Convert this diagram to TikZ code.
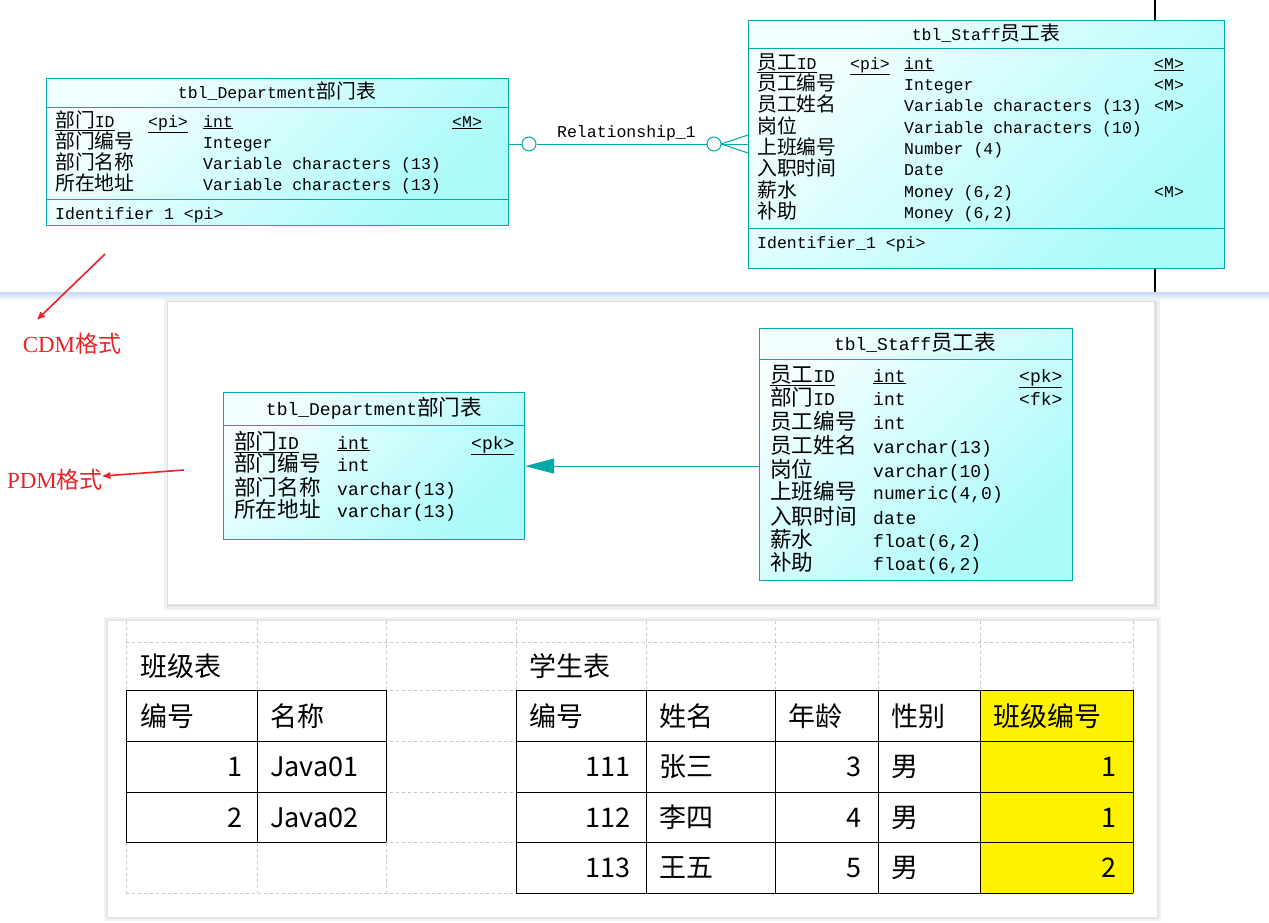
\documentclass[tikz,border=0pt]{standalone}
\usepackage{xcolor}
\usepackage{fontspec}
\setmainfont{Liberation Serif}
\setmonofont{Liberation Mono}
\newfontfamily\cjk{Noto Sans CJK SC}
\newfontfamily\erzh[Scale=1.2]{Noto Sans CJK SC}
\newcommand{\zh}[1]{{\erzh #1}}
\usepackage{tikz}
\usetikzlibrary{arrows,arrows.meta,calc}
\definecolor{erteal}{RGB}{0,168,168}
\definecolor{erlight}{RGB}{244,255,255}
\definecolor{ercyan}{RGB}{170,250,250}
\definecolor{notered}{RGB}{232,36,40}
\definecolor{gridgray}{RGB}{200,200,200}
\definecolor{sepblue}{RGB}{196,216,245}

\begin{document}
\begin{tikzpicture}[x=1pt,y=-1pt,>=stealth']
\tikzstyle{entity}=[draw=erteal,line width=1.2pt,top color=erlight,bottom color=ercyan,shading angle=45,inner sep=0pt,anchor=north west]
\tikzstyle{sep}=[draw=erteal,line width=1pt]
\tikzstyle{cdmfont}=[inner sep=0pt,font=\ttfamily\fontsize{16.5}{20}\selectfont]
\tikzstyle{cdm}=[cdmfont,anchor=base west,yshift=-6pt]
\tikzstyle{pdm}=[anchor=base west,inner sep=0pt,yshift=-7pt,font=\ttfamily\fontsize{18}{22}\selectfont]
\tikzstyle{rel}=[draw=erteal,line width=1pt]
\tikzstyle{ring}=[circle,draw=erteal,fill=white,line width=1pt,minimum size=14pt,inner sep=0pt]
\tikzstyle{fk}=[rel,-{Triangle[length=29pt,width=15pt]}]
\tikzstyle{note}=[draw=notered,line width=1.6pt,->]
\tikzstyle{redtext}=[inner sep=0pt,text=notered,font=\rmfamily\fontsize{23}{25}\selectfont]
\tikzstyle{sheetgrid}=[draw=gridgray,dashed,line width=0.6pt]
\tikzstyle{cell}=[draw=black,line width=1pt]
\tikzstyle{sheet}=[anchor=base west,inner sep=0pt,yshift=-10pt,font=\cjk\fontsize{27}{30}\selectfont]
\tikzstyle{num}=[sheet,anchor=base east]
\useasboundingbox (0,0) rectangle (1269,922);
\fill[white] (0,0) rectangle (1269,922);
\shade[top color=sepblue,bottom color=white] (0,292) rectangle (1269,301);
\draw[line width=1.2pt] (1155,0) -- (1155,292);

\node[entity,minimum width=462pt,minimum height=147pt] (cdept) at (46,78) {};
\draw[sep] (46,107) -- (508,107);
\draw[sep] (46,199) -- (508,199);
\node[cdm,anchor=base] (cdept_t) at (277,92) {tbl\_Department\zh{部门表}};
\foreach \y/\n/\t [count=\i] in {121/{\underline{\zh{部门}ID}}/{\underline{int}},142/{\zh{部门编号}}/Integer,163/{\zh{部门名称}}/{Variable characters (13)},184/{\zh{所在地址}}/{Variable characters (13)}}
{
  \node[cdm] (cd_\i) at (55,\y) {\n};
  \node[cdm] (ct_\i) at (203,\y) {\t};
}
\node[cdm] (cd_pi) at (148,121) {\underline{<pi>}};
\node[cdm] (cd_m) at (452,121) {\underline{<M>}};
\node[cdm] (cd_id) at (55,213) {Identifier 1 <pi>};

\node[entity,minimum width=476pt,minimum height=248pt] (cstaff) at (748,20) {};
\draw[sep] (748,48) -- (1224,48);
\draw[sep] (748,228) -- (1224,228);
\node[cdm,anchor=base] (cstaff_t) at (986,34) {tbl\_Staff\zh{员工表}};
\foreach \y/\n/\t [count=\i] in {63/{\underline{\zh{员工}ID}}/{\underline{int}},84/{\zh{员工编号}}/Integer,105/{\zh{员工姓名}}/{Variable characters (13)},127/{\zh{岗位}}/{Variable characters (10)},148/{\zh{上班编号}}/{Number (4)},169/{\zh{入职时间}}/Date,191/{\zh{薪水}}/{Money (6,2)},212/{\zh{补助}}/{Money (6,2)}}
{
  \node[cdm] (cs_\i) at (757,\y) {\n};
  \node[cdm] (cst_\i) at (904,\y) {\t};
}
\node[cdm] (cs_pi) at (850,63) {\underline{<pi>}};
\node[cdm] (m_1) at (1154,63) {\underline{<M>}};
\foreach \y/\name in {84/m_2,105/m_3,191/m_7}
  \node[cdm] (\name) at (1154,\y) {<M>};
\node[cdm] (cs_id) at (757,242) {Identifier\_1 <pi>};

\node[ring] (c_1) at (529,144) {};
\node[ring] (c_2) at (714,144) {};
\coordinate (crow) at (721,144);
\path[rel] (cdept.east |- c_1) to (c_1);
\path[rel] (c_1) to node[cdmfont,anchor=base,xshift=5pt,yshift=7pt] (rel_1) {Relationship\_1} (c_2);
\path[rel] (c_2) to (crow);
\path[rel] (crow) to (cstaff.west |- crow);
\path[rel] (crow) to ($(cstaff.west |- crow)+(0,-9)$);
\path[rel] (crow) to ($(cstaff.west |- crow)+(0,9)$);

\fill[black!6] (164,298) rectangle (1160,610);
\fill[black!12] (167,301) rectangle (1157,607);
\fill[white] (168,302) rectangle (1154,604);

\node[entity,minimum width=301pt,minimum height=147pt] (pdept) at (223,392) {};
\draw[sep] (223,425) -- (524,425);
\node[pdm,anchor=base] (pdept_t) at (374,408) {tbl\_Department\zh{部门表}};
\foreach \y/\n/\t [count=\i] in {442/{\underline{\zh{部门}ID}}/{\underline{int}},464/{\zh{部门编号}}/int,488/{\zh{部门名称}}/{varchar(13)},510/{\zh{所在地址}}/{varchar(13)}}
{
  \node[pdm] (pd_\i) at (234,\y) {\n};
  \node[pdm] (pt_\i) at (337,\y) {\t};
}
\node[pdm] (pd_pk) at (471,442) {\underline{<pk>}};

\node[entity,minimum width=313pt,minimum height=252pt] (pstaff) at (759,328) {};
\draw[sep] (759,359) -- (1072,359);
\node[pdm,anchor=base] (pstaff_t) at (915,343) {tbl\_Staff\zh{员工表}};
\foreach \y/\n/\t [count=\i] in {375/{\underline{\zh{员工}ID}}/{\underline{int}},398/{\zh{部门}ID}/int,422/{\zh{员工编号}}/int,446/{\zh{员工姓名}}/{varchar(13)},470/{\zh{岗位}}/{varchar(10)},492/{\zh{上班编号}}/{numeric(4,0)},517/{\zh{入职时间}}/date,540/{\zh{薪水}}/{float(6,2)},563/{\zh{补助}}/{float(6,2)}}
{
  \node[pdm] (ps_\i) at (770,\y) {\n};
  \node[pdm] (pst_\i) at (873,\y) {\t};
}
\node[pdm] (ps_pk) at (1019,375) {\underline{<pk>}};
\node[pdm] (ps_fk) at (1019,398) {<fk>};
\path[fk] (pstaff.west |- pdept.east) to (pdept.east);

\node[redtext] (cdm) at (72,344) {CDM{\cjk 格式}};
\node[redtext] (pdm) at (55,480) {PDM{\cjk 格式}};
\coordinate (n_1) at (105,254);
\coordinate (n_2) at (184,470);
\draw[note] (n_1) -- ([shift={(15pt,14pt)}]cdm.north west);
\draw[note] (n_2) -- ([yshift=4pt]pdm.east);

\fill[black!5] (104,617) rectangle (1161,921);
\fill[black!10] (106,619) rectangle (1159,919);
\fill[white] (108,621) rectangle (1157,917);
\fill[yellow] (980,690) rectangle (1133,893);
\foreach \x in {126,257,386,516,646,775,878,980,1133}
  \draw[sheetgrid] (\x,621) -- (\x,893);
\foreach \y in {642,690,741,792,842,893}
  \draw[sheetgrid] (126,\y) -- (1133,\y);
\foreach \x in {126,257,386}
  \draw[cell] (\x,690) -- (\x,842);
\foreach \y in {690,741,792,842}
  \draw[cell] (126,\y) -- (386,\y);
\foreach \x in {516,646,775,878,980,1133}
  \draw[cell] (\x,690) -- (\x,893);
\foreach \y in {690,741,792,842,893}
  \draw[cell] (516,\y) -- (1133,\y);

\node[sheet] (k_t) at (140,666) {班级表};
\node[sheet] (k_h1) at (140,716) {编号};
\node[sheet] (k_h2) at (270,716) {名称};
\foreach \y/\id/\nm [count=\i] in {766/1/Java01,817/2/Java02}
{
  \node[num] (kid_\i) at (243,\y) {\id};
  \node[sheet] (knm_\i) at (270,\y) {\nm};
}
\node[sheet] (s_t) at (529,666) {学生表};
\foreach \x/\h [count=\i] in {529/编号,659/姓名,788/年龄,891/性别,993/班级编号}
  \node[sheet] (s_h\i) at (\x,716) {\h};
\foreach \y/\id/\nm/\age/\cls [count=\i] in {766/111/张三/3/1,817/112/李四/4/1,867/113/王五/5/2}
{
  \node[num] (sid_\i) at (631,\y) {\id};
  \node[sheet] (snm_\i) at (659,\y) {\nm};
  \node[num] (sag_\i) at (862,\y) {\age};
  \node[sheet] (ssx_\i) at (891,\y) {男};
  \node[num] (scl_\i) at (1117,\y) {\cls};
}
\end{tikzpicture}
\end{document}
